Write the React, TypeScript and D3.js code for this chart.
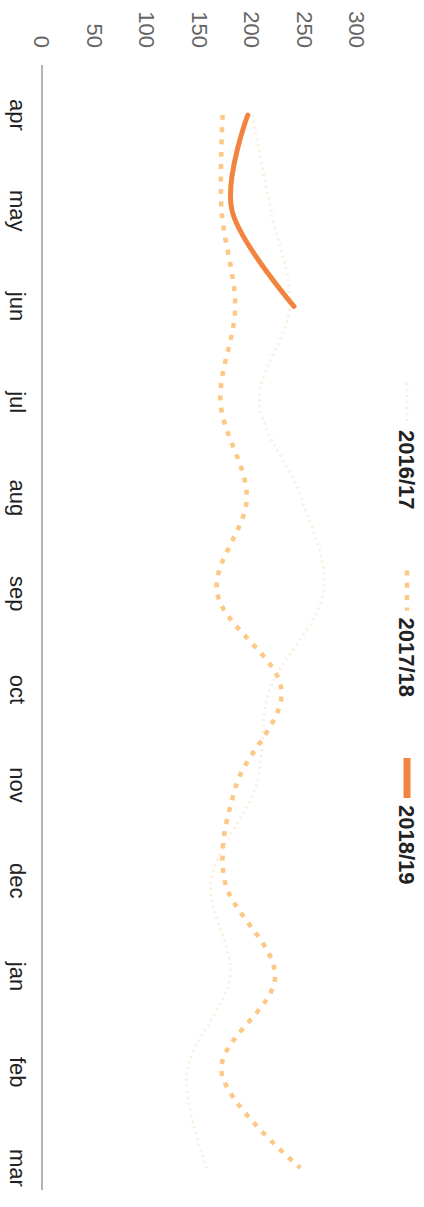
import React from "react";
import * as d3 from "d3";

const months = ["apr", "may", "jun", "jul", "aug", "sep", "oct", "nov", "dec", "jan", "feb", "mar"];
const yTicks = [0, 50, 100, 150, 200, 250, 300];
const s1617 = [200, 218, 236, 207, 247, 268, 217, 204, 161, 179, 138, 157];
const s1718 = [172, 171, 184, 170, 195, 167, 228, 185, 174, 222, 171, 246];
const s1819 = [196, 181, 240];
const seriesNames = ["2016/17", "2017/18", "2018/19"];
const seriesColors = ["#fbeedd", "#fdc885", "#f2843f"];

const W = 1207;
const H = 424;

export default function App() {
  const x = d3.scalePoint<string>().domain(months).range([115, 1168]);
  const y = d3.scaleLinear().domain([0, 300]).range([382, 67]);
  const line = d3
    .line<number>()
    .x((_, i) => x(months[i]) as number)
    .y((d) => y(d))
    .curve(d3.curveCardinal);

  const data = [s1617, s1718, s1819];
  const styles = [
    { w: 3, dash: "2 4" },
    { w: 4.5, dash: "5 7.3" },
    { w: 5, dash: undefined as string | undefined },
  ];
  const font = "'Liberation Sans', Arial, Helvetica, sans-serif";

  return (
    <svg
      width={H}
      height={W}
      style={{ position: "absolute", left: 0, top: 0, background: "#fff" }}
    >
      <g transform={`translate(${H},0) rotate(90)`} fontFamily={font} fontSize={22}>
        {yTicks.map((t) => (
          <text key={t} x={48} y={y(t)} dy="0.35em" textAnchor="end" fill="#666">
            {t}
          </text>
        ))}
        <line x1={65} x2={1190} y1={382} y2={382} stroke="#999" strokeWidth={1.5} />
        {months.map((m) => (
          <text key={m} x={x(m)} y={414} textAnchor="middle" fill="#222">
            {m}
          </text>
        ))}
        {data.map((d, i) => (
          <path
            key={i}
            d={line(d) || ""}
            fill="none"
            stroke={seriesColors[i]}
            strokeWidth={styles[i].w}
            strokeDasharray={styles[i].dash}
            strokeLinecap={i === 2 ? "round" : "butt"}
          />
        ))}
        {seriesNames.map((n, i) => {
          const x0 = 383 + i * 187.5;
          return (
            <g key={n}>
              <line
                x1={x0}
                x2={x0 + 40}
                y1={17}
                y2={17}
                stroke={seriesColors[i]}
                strokeWidth={i === 2 ? 7 : styles[i].w}
                strokeDasharray={styles[i].dash}
              />
              <text x={x0 + 47} y={17} dy="0.35em" fill="#222" fontWeight="bold">
                {n}
              </text>
            </g>
          );
        })}
      </g>
    </svg>
  );
}
